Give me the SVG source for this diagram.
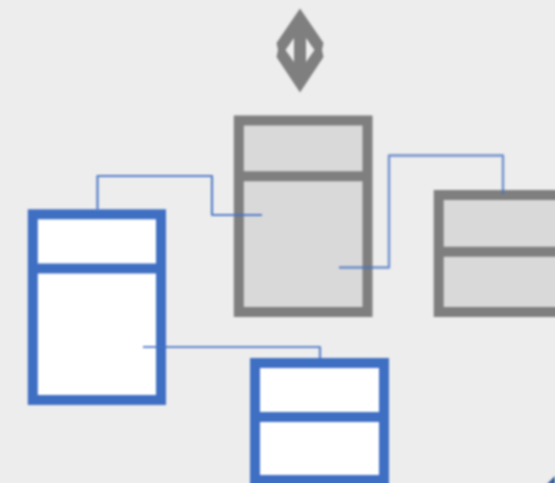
<svg xmlns="http://www.w3.org/2000/svg" width="555" height="483" viewBox="0 0 555 483">
<style>
.blue rect{fill:#fff;stroke:#3f6fc3;stroke-width:10}
.blue line{stroke:#3f6fc3;stroke-width:10}
.gray rect{fill:#d9d9d9;stroke:#7f7f7f;stroke-width:10}
.gray line{stroke:#7f7f7f;stroke-width:10}
.c{fill:none;stroke:#4472c4;stroke-linejoin:round}
</style>
<defs>
<filter id="soft" x="0" y="0" width="555" height="483" filterUnits="userSpaceOnUse" color-interpolation-filters="sRGB"><feGaussianBlur stdDeviation="0.8"/></filter>
</defs>
<rect width="555" height="483" fill="#ededed"/>
<g filter="url(#soft)">
<g id="node-diamond"><path fill="#7f7f7f" fill-rule="evenodd" d="M300 8.500L323.500 43L322 50L323.500 57L300 92.500L276.500 57L278 50L276.500 43ZM294 38L285.500 50L294 62ZM306 38V62L314.500 50Z"/></g>
<g id="node-gray-1" class="gray"><rect x="238.800" y="120.500" width="128.700" height="191.500"/><line x1="238.800" y1="176.200" x2="367.500" y2="176.200"/></g>
<g id="node-gray-2" class="gray"><rect x="438.700" y="195" width="130" height="117"/><line x1="438.700" y1="251.700" x2="560" y2="251.700"/></g>
<g id="node-blue-1" class="blue"><rect x="32.800" y="214.300" width="128.200" height="185.700"/><line x1="32.800" y1="268.500" x2="161" y2="268.500"/></g>
<g id="node-blue-2" class="blue"><rect x="255" y="363" width="129" height="117"/><line x1="255" y1="417" x2="384" y2="417"/></g>
<g id="connectors">
<path class="c" stroke-width="2.200" stroke-opacity="0.9" d="M97.500 209V176H212V215H262"/>
<path class="c" stroke-width="2.400" stroke-opacity="0.75" d="M339 267.500H389V155.500H503V194"/>
<path class="c" stroke-width="2.200" stroke-opacity="0.85" d="M143 347H320V358"/>
</g>
<path fill="#2f5597" d="M547 484L555 476V484Z"/>
</g>
</svg>
